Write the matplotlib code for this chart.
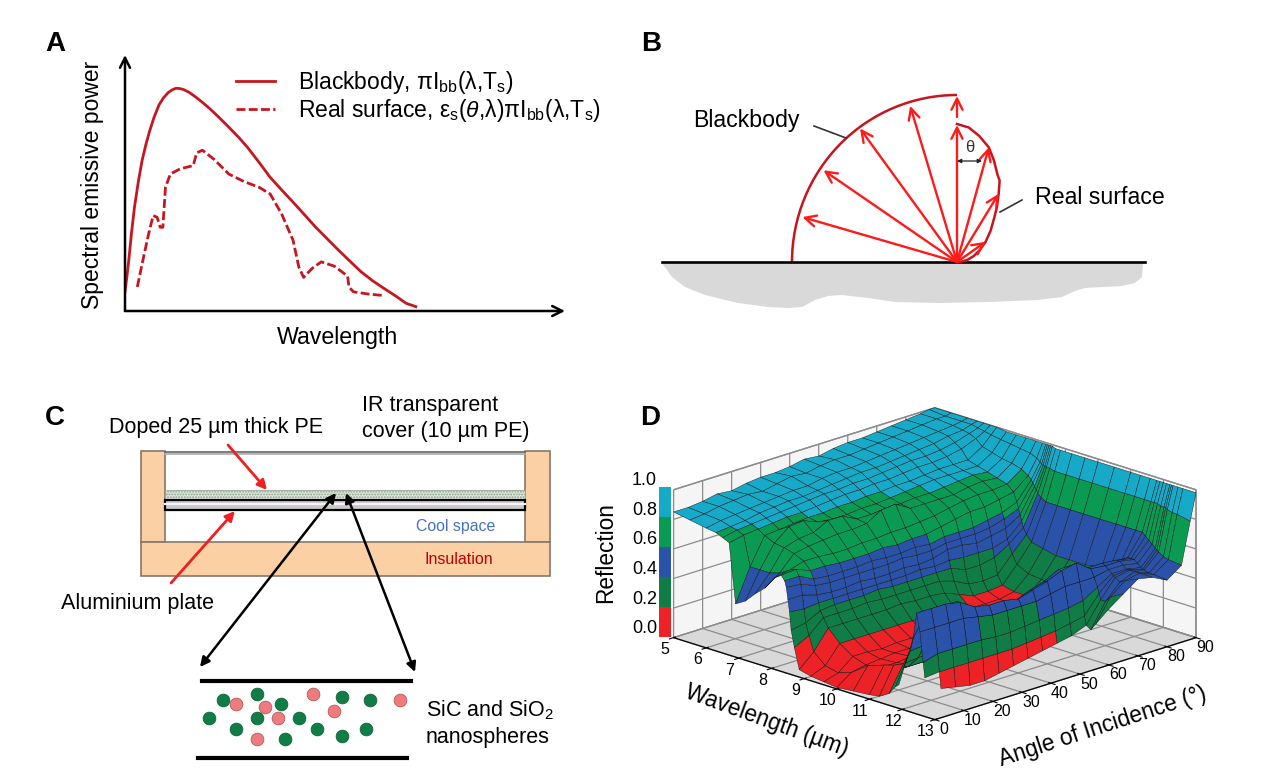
import numpy as np
import matplotlib
matplotlib.use('Agg')
import matplotlib.pyplot as plt
from matplotlib.patches import Rectangle, Arc
from mpl_toolkits.mplot3d import proj3d

plt.rcParams['font.family'] = ['Liberation Sans', 'DejaVu Sans']
plt.rcParams['mathtext.fontset'] = 'custom'
plt.rcParams['mathtext.rm'] = 'Liberation Sans'
plt.rcParams['mathtext.it'] = 'Liberation Sans:italic'

# Panel A: curves in percent of the arrow axes
bb_x = [0, .43, .86, 1.46, 2.15, 3.0, 3.86, 4.72, 5.58, 6.61, 7.73, 8.76, 9.87, 10.73, 11.59, 12.45, 13.3, 14.6, 15.9, 17.6,
        19.3, 21.5, 23.6, 25.8, 27.9, 30.5, 33.0, 35.6, 38.2, 40.8, 43.3, 45.9, 48.5, 51.1, 53.6, 56.2, 58.8, 61.4, 63.9, 66.1]
bb_y = [7.5, 13.4, 19.8, 30.2, 40.5, 50.2, 58.6, 64.8, 70.2, 75.7, 80.5, 83.3, 85.4, 86.4, 87.0, 86.9, 86.5, 85.4, 83.8, 81.5,
        79.0, 75.4, 71.8, 67.9, 63.8, 58.0, 52.2, 47.3, 42.5, 37.6, 32.8, 28.3, 23.8, 19.5, 15.4, 11.9, 8.9, 6.0, 3.0, 1.7]
real_x = [2.8, 3.9, 5.2, 6.4, 7.3, 8.0, 8.6, 9.2, 10.3, 12.5, 15.5, 16.3, 17.6, 20.2, 23.6, 27.0, 30.5, 33.0, 35.6, 38.2,
          39.5, 40.6, 42.5, 44.6, 47.6, 50.6, 50.9, 51.9, 55.4, 58.4]
real_y = [9.4, 18.5, 28.9, 37.3, 36.6, 32.7, 32.7, 48.3, 53.5, 55.5, 56.8, 61.8, 62.8, 59.3, 53.5, 50.6, 48.3, 45.7, 37.9, 27.6,
          17.2, 13.1, 16.6, 19.2, 17.5, 13.6, 9.4, 7.5, 6.6, 6.1]
legend_labels = ['Blackbody, πI$_{\\mathrm{bb}}$(λ,T$_{\\mathrm{s}}$)',
                 'Real surface, ε$_{\\mathrm{s}}$($\\mathit{\\theta}$,λ)πI$_{\\mathrm{bb}}$(λ,T$_{\\mathrm{s}}$)']

# Panel B: rays as angle from the normal (deg) and length (px)
bb_ray_angle = [-73.8, -55.5, -36, -16.7]
bb_ray_len = [161, 162, 165, 163]
real_ray_angle = [0, 15.5, 31.4, 54.8]
real_ray_len = [137, 119, 80, 35]
lobe_angle = [0, 5, 10, 15.5, 20, 25, 27.6, 31.4, 36, 40, 47, 54.8, 62, 70, 78, 85, 90]
lobe_len = [138, 135, 128, 119, 108, 96, 92, 80, 68, 58, 46, 35, 26, 18, 11, 5, 0]
ground_x = [-295, -285, -272, -252, -219, -189, -169, -155, -142, -129, -115, -89, -62, -19, 31, 81, 105, 118, 128, 165, 178, 185, 186]
ground_y = [-1, -15, -25, -33, -41, -45, -46, -45, -38, -34, -33, -36, -40, -41, -40, -38, -35, -29, -26, -24, -21, -15, -1]

# Panel C: nanospheres in image pixels
green_x = [223, 257, 281, 342, 370, 209, 257, 299, 236, 317, 366, 342, 285]
green_y = [700, 694, 704, 697, 700, 718, 718, 718, 729, 729, 729, 736, 739]
pink_x = [236, 265, 313, 334, 400, 278, 257]
pink_y = [704, 707, 694, 711, 700, 718, 739]

# Panel D: reflection, n where the floor shows through
n = np.nan
wavelength = [5, 5.5, 6, 6.3, 6.5, 6.7, 6.9, 7.2, 7.5, 7.8, 8.1, 8.3, 8.4, 8.45, 8.5, 8.55, 8.6, 8.7, 8.85, 9.2, 9.6, 10,
              10.5, 11, 11.3, 11.6, 11.8, 11.9, 12, 12.1, 12.2, 12.25, 12.3, 12.45, 12.6, 13]
angle = [0, 5, 10, 15, 20, 25, 30, 35, 40, 45, 50, 55, 60, 65, 70, 75, 80, 85, 88, 90]
reflection = np.array([
    [.85, .85, .86, .88, .87, .89, .90, .90, .91, .93, .92, .94, .95, .95, .96, .97, .98, .99, 1.0, 1.0],
    [.83, .84, .86, .87, .88, .87, .89, .91, .90, .92, .93, .93, .94, .95, .96, .97, .98, .99, .99, 1.0],
    [.81, .83, .84, .85, .86, .87, .88, .88, .90, .91, .91, .92, .93, .94, .95, .96, .97, .98, .99, 1.0],
    [.80, .81, .82, .84, .85, .86, .86, .87, .88, .89, .90, .90, .91, .92, .93, .94, .96, .97, .99, 1.0],
    [.78, .80, .81, .82, .83, .84, .85, .86, .86, .87, .87, .88, .89, .90, .90, .91, .93, .96, .98, 1.0],
    [.76, .78, .79, .80, .81, .81, .82, .83, .84, .84, .85, .85, .86, .87, .87, .88, .90, .94, .97, 1.0],
    [.36, .58, .76, .77, .78, .79, .79, .80, .80, .81, .81, .82, .82, .83, .84, .84, .84, .90, .96, 1.0],
    [.40, .58, .73, .81, .82, .78, .77, .77, .78, .78, .79, .80, .81, .82, .82, .82, .82, .88, .95, .99],
    [.47, .58, .72, .75, .76, .81, .81, .76, .76, .77, .77, .78, .78, .79, .80, .81, .80, .86, .94, .99],
    [.53, .60, .70, .72, .73, .74, .74, .75, .81, .82, .76, .76, .76, .76, .78, .79, .78, .85, .93, .99],
    [.62, .64, .67, .67, .66, .66, .67, .67, .68, .68, .69, .70, .72, .74, .75, .75, .76, .83, .92, .99],
    [.65, .66, .62, .62, .61, .61, .61, .62, .61, .62, .62, .64, .66, .68, .68, .70, .72, .80, .90, .99],
    [.62, .62, .57, .56, .56, .56, .57, .56, .56, .57, .56, .58, .58, .58, .60, .62, .66, .78, .88, .99],
    [.58, .57, .53, .52, .52, .52, .52, .52, .53, .52, .52, .54, .54, .54, .55, .58, .62, .76, .87, .99],
    [.50, .50, .47, .46, .46, .47, .46, .46, .47, .46, .47, .50, .50, .48, .50, .52, .58, .74, .87, .99],
    [.42, .41, .42, .42, .42, .42, .42, .42, .42, .43, .42, .43, .42, .42, .42, .45, .54, .72, .86, .99],
    [.30, .32, .37, .38, .38, .38, .39, .38, .38, .38, .38, .38, .34, .34, .36, .42, .50, .70, .86, .99],
    [.19, .24, .33, .33, .33, .34, .33, .33, .33, .33, .33, .30, .25, .24, .25, .36, .46, .68, .86, .98],
    [.05, .14, .27, .27, .27, .27, .27, .28, .27, .27, .26, .22, .18, .18, .19, .30, .42, .66, .85, .98],
    [.03, .07, .19, .19, .19, .19, .19, .19, .18, .18, .17, .15, .15, .15, .17, .26, .40, .66, .85, .98],
    [.02, .05, .13, .13, .12, .13, .13, .13, .13, .13, .13, .13, .14, .15, .17, .25, .38, .66, .85, .98],
    [.01, .08, .10, .11, .12, .12, .13, .13, .14, .14, .14, .15, .15, .16, .18, .25, .38, .66, .85, .98],
    [.02, .16, .12, .12, .13, .13, .14, .14, .15, .15, .15, .16, .16, .17, .19, .26, .38, .66, .85, .98],
    [.03, .20, .14, .14, .15, .15, .16, .16, .17, .17, .17, .18, .18, .20, .24, .30, .40, .66, .85, .98],
    [.04, .22, .18, .18, .19, .19, .19, .20, .20, .21, .22, .23, .25, .30, .34, .38, .44, .66, .85, .98],
    [.08, .25, .26, .27, .28, .28, .29, .30, .31, .33, .35, .38, .42, .46, .46, .46, .48, .66, .85, .98],
    [.14, .35, .36, .37, .37, .38, .38, .38, .39, .42, .44, .47, .50, .52, .52, .52, .52, .66, .85, .98],
    [.16, .45, .60, .60, .60, .50, .48, .48, .48, .52, .55, .60, .60, .55, .55, .54, .52, .64, .85, .98],
    [n, .62, .62, .62, .60, .54, .52, .52, .50, .53, .56, .60, .62, .55, .54, .54, .52, .62, .85, .98],
    [n, .50, .50, .50, .50, .48, .46, .46, .46, .46, .48, .50, .50, .50, .52, .52, .50, .60, .84, .98],
    [n, .30, .33, .33, .33, .33, .32, .32, .33, .34, .35, .36, .38, .44, .50, .50, .48, .58, .84, .98],
    [n, .20, .21, .21, .21, .21, .21, .21, .22, .23, .24, .26, .28, .40, .49, .50, .47, .57, .84, .98],
    [n, n, .10, .08, .06, .06, .08, .10, .12, .14, .16, .18, .22, .36, .48, .50, .47, .56, .83, .98],
    [n, n, n, n, n, n, n, n, n, n, n, n, .20, .36, .46, .50, .46, .54, .82, .98],
    [n, n, n, n, n, n, n, n, n, n, n, n, .25, .40, .48, .50, .46, .53, .82, .98],
    [n, n, n, n, n, n, n, n, n, n, n, n, .38, .45, .52, .50, .45, .52, .80, .98],
])
band_edges = [0.0, 0.2, 0.4, 0.6, 0.8, 1.0]
band_colors = ['#ec2227', '#0f7d45', '#2a52a8', '#0b9a52', '#17a9c8']
reflection_ticks = [0.0, 0.2, 0.4, 0.6, 0.8, 1.0]
wavelength_ticks = [5, 6, 7, 8, 9, 10, 11, 12, 13]
angle_ticks = [0, 10, 20, 30, 40, 50, 60, 70, 80, 90]

W_PX, H_PX = 1270, 784
fig = plt.figure(figsize=(W_PX / 100, H_PX / 100), dpi=100)


def px_axes(left, top, right, bottom, **kw):
    return fig.add_axes([left / W_PX, 1 - bottom / H_PX, (right - left) / W_PX, (bottom - top) / H_PX], **kw)


# base layer in image pixels: panel C, letters, colour strip, rotated labels
base = px_axes(0, 0, W_PX, H_PX)
base.set_xlim(0, W_PX)
base.set_ylim(H_PX, 0)
base.axis('off')

for letter, x, y in [('A', 55, 44), ('B', 651, 44), ('C', 55, 418), ('D', 650, 418)]:
    base.text(x, y, letter, fontsize=20, fontweight='bold', ha='center', va='center')

# --- A ---
ax_a = px_axes(125, 55, 565, 311)
ax_a.set_xlim(0, 100)
ax_a.set_ylim(0, 100)
ax_a.axis('off')
line1, = ax_a.plot(bb_x, bb_y, color='#c5171f', lw=2)
line2, = ax_a.plot(real_x, real_y, color='#c5171f', lw=2, ls=(0, (3.2, 1.2)))
for tip in [(100, 0), (0, 100)]:
    ax_a.annotate('', xy=tip, xytext=(0, 0), annotation_clip=False,
                  arrowprops=dict(arrowstyle='->', color='black', lw=1.8, mutation_scale=18, shrinkA=0, shrinkB=0))
ax_a.legend([line1, line2], legend_labels, loc='upper left', bbox_to_anchor=(0.252, 0.945), frameon=False,
            fontsize=16.5, handlelength=1.7, handletextpad=1.0, labelspacing=0.05, borderpad=0, borderaxespad=0)
base.text(338, 337, 'Wavelength', fontsize=16.7, ha='center', va='center')
base.text(92, 185, 'Spectral emissive power', fontsize=16.5, rotation=90, ha='center', va='center')

# --- B: origin at the ray source, one unit = one pixel ---
ax_b = px_axes(650, 60, 1160, 310)
ax_b.set_xlim(-307, 203)
ax_b.set_ylim(-48, 202)
ax_b.axis('off')
ax_b.fill(ground_x, ground_y, color='#d9d9d9', lw=0)
ax_b.plot([-295, 188], [0, 0], color='black', lw=1.9)
red = '#ff1a1a'
dark = '#c8151d'
ax_b.add_patch(Arc((0, 0), 2 * 165, 2 * 167, theta1=90, theta2=180, color=dark, lw=1.8))
lobe_rad = np.radians(lobe_angle)
ax_b.plot(np.array(lobe_len) * np.sin(lobe_rad), np.array(lobe_len) * np.cos(lobe_rad), color=dark, lw=1.8)


def ray(deg, length):
    a = np.radians(deg)
    ax_b.annotate('', xy=(length * np.sin(a), length * np.cos(a)), xytext=(0, 0),
                  arrowprops=dict(arrowstyle='->', color=red, lw=1.7, mutation_scale=20, shrinkA=0, shrinkB=0))


for deg, length in zip(bb_ray_angle + real_ray_angle, bb_ray_len + real_ray_len):
    ray(deg, length)
ax_b.annotate('', xy=(0, 166), xytext=(0, 145),
              arrowprops=dict(arrowstyle='->', color=red, lw=1.7, mutation_scale=20, shrinkA=0, shrinkB=0))
ax_b.annotate('', xy=(0, 101), xytext=(25, 101),
              arrowprops=dict(arrowstyle='<|-|>', color='#222222', lw=0.9, mutation_scale=6, shrinkA=0, shrinkB=0))
ax_b.text(13, 114, 'θ', fontsize=12, color='#333333', ha='center', va='center')
ax_b.plot([-143, -111], [136, 124], color='#333333', lw=1.2)
ax_b.plot([65, 43], [62, 50], color='#333333', lw=1.2)
ax_b.text(-211, 141, 'Blackbody', fontsize=16.7, ha='center', va='center')
ax_b.text(78, 65, 'Real surface', fontsize=16.7, ha='left', va='center')

# --- C ---
tan = '#fbd0a4'
edge = '#85786a'
for x0, y0, w, h in [(141, 451, 24, 91), (525, 451, 25, 91), (141, 542, 409, 34)]:
    base.add_patch(Rectangle((x0, y0), w, h, fc=tan, ec=edge, lw=1.2))
base.plot([165, 525], [452, 452], color='#666666', lw=1.2)
base.plot([165, 525], [454, 454], color='#aaaaaa', lw=1.2)
base.add_patch(Rectangle((165, 490), 360, 8.5, fc='#e4ebe2', ec='#8aa08a', lw=0.5, hatch='......'))
base.add_patch(Rectangle((165, 500), 360, 9.5, fc='#c9c9c9', ec='black', lw=1.6))
base.plot([165, 525], [504, 504], color='#f4f4f4', lw=1.6)
for start, tip in [((228, 445), (267, 490)), ((171, 583), (235, 511))]:
    base.annotate('', xy=tip, xytext=start,
                  arrowprops=dict(arrowstyle='-|>', color='#f02020', lw=2, mutation_scale=14, shrinkA=0, shrinkB=0))
for start, tip in [((336, 493), (200, 667)), ((346, 493), (415, 672))]:
    base.annotate('', xy=tip, xytext=start,
                  arrowprops=dict(arrowstyle='<|-|>', color='black', lw=1.8, mutation_scale=14, shrinkA=0, shrinkB=0))
base.plot([202, 411], [680.5, 680.5], color='black', lw=3)
base.plot([198, 407], [758, 758], color='black', lw=3)
base.scatter(green_x, green_y, s=85, color='#0f7d45', edgecolors='#0b5c32', lw=0.5, zorder=3)
base.scatter(pink_x, pink_y, s=85, color='#ee7b7d', edgecolors='#a85050', lw=0.5, zorder=3)
base.text(109, 427, 'Doped 25 µm thick PE', fontsize=15.5, va='center')
base.text(362, 405, 'IR transparent', fontsize=15.5, va='center')
base.text(362, 431, 'cover (10 µm PE)', fontsize=15.5, va='center')
base.text(416, 526, 'Cool space', fontsize=11.4, color='#4472c4', va='center')
base.text(425, 559, 'Insulation', fontsize=11.5, color='#c00000', va='center')
base.text(61, 603, 'Aluminium plate', fontsize=15.5, va='center')
base.text(426, 710, 'SiC and SiO$_{2}$', fontsize=15.5, va='center')
base.text(426, 737, 'nanospheres', fontsize=15.5, va='center')

# --- D ---
ax_d = px_axes(657.5, 301, 1197.5, 841, projection='3d', proj_type='ortho')
ax_d.patch.set_alpha(0)
ax_d.view_init(elev=18.3, azim=-45)
ax_d.set_box_aspect((370, 370, 156), zoom=0.98)
ax_d.set_xlim(5, 13)
ax_d.set_ylim(0, 90)
ax_d.set_zlim(0, 1)
ax_d.set_xticks(wavelength_ticks)
ax_d.set_yticks(angle_ticks)
ax_d.set_zticks(reflection_ticks)
ax_d.set_xticklabels([])
ax_d.set_yticklabels([])
ax_d.set_zticklabels([])
ax_d.xaxis.set_pane_color('#f5f5f5')
ax_d.yaxis.set_pane_color('#f5f5f5')
ax_d.zaxis.set_pane_color('#d9d9d9')
for axis in (ax_d.xaxis, ax_d.yaxis, ax_d.zaxis):
    axis._axinfo['grid'].update(color='#8c8c8c', linewidth=0.9)
    axis.pane.set_edgecolor('#8c8c8c')
ax_d.zaxis.line.set_color((0, 0, 0, 0))
ax_d.zaxis._axinfo['tick'].update(inward_factor=0, outward_factor=0)

Y, X = np.meshgrid(angle, wavelength)
corners = reflection[:-1, :-1] + reflection[1:, :-1] + reflection[:-1, 1:] + reflection[1:, 1:]
hole = np.isnan(corners)
band_index = np.clip(np.digitize(np.nan_to_num(corners / 4), band_edges) - 1, 0, len(band_colors) - 1)
face = np.array([matplotlib.colors.to_rgba(c) for c in band_colors])[band_index]
line_color = np.tile(matplotlib.colors.to_rgba('#101010'), hole.shape + (1,))
face[hole] = (0, 0, 0, 0)
line_color[hole] = (0, 0, 0, 0)
surf = ax_d.plot_surface(X, Y, np.nan_to_num(reflection), facecolors=face, rstride=1, cstride=1, shade=False,
                         edgecolor='#101010', linewidth=0.3, antialiased=True)
surf.set_edgecolors(line_color.reshape(-1, 4))

# tick labels go on the base layer, at the projected tick position
fig.canvas.draw()


def project(x, y, z):
    sx, sy, _ = proj3d.proj_transform(x, y, z, ax_d.get_proj())
    return base.transData.inverted().transform(ax_d.transData.transform((sx, sy)))


for w in wavelength_ticks:
    px, py = project(w, 0, 0)
    base.text(px - 9, py + 12, str(w), fontsize=11.5, ha='center', va='center')
for a in angle_ticks:
    px, py = project(13, a, 0)
    base.text(px + 9, py + 10, str(a), fontsize=11.5, ha='center', va='center')
for z in reflection_ticks:
    px, py = project(5, 0, z)
    base.text(px - 29, py - 9, f'{z:.1f}', fontsize=13, ha='center', va='center')

strip_h = 150 / len(band_colors)
for i, color in enumerate(band_colors):
    base.add_patch(Rectangle((659, 637 - (i + 1) * strip_h), 12, strip_h, fc=color, lw=0, zorder=3))
base.text(606, 553, 'Reflection', fontsize=16.3, rotation=90, ha='center', va='center')
base.text(767, 721, 'Wavelength (µm)', fontsize=16.3, rotation=-20, ha='center', va='center')
base.text(1103, 727, 'Angle of Incidence (°)', fontsize=16.3, rotation=18, ha='center', va='center')

fig.savefig('out.png', dpi=100)
